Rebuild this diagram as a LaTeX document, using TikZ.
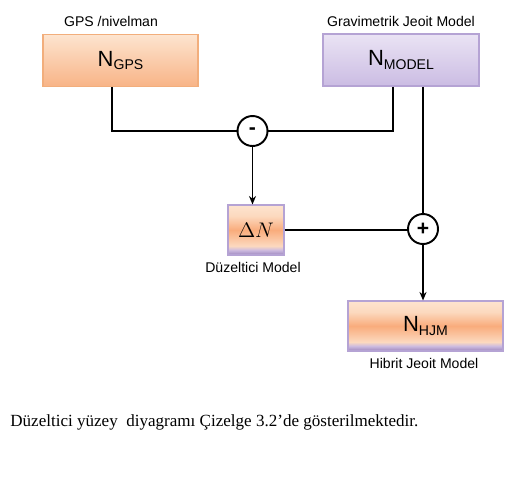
\documentclass[tikz,border=0pt]{standalone}
\usepackage{fontspec}
\setmainfont{Liberation Serif}
\newfontfamily\boxfont{Liberation Sans}
\usepackage{tikz}
\usetikzlibrary{shapes.geometric, arrows.meta, positioning, calc}
\definecolor{peachtop}{HTML}{FDE4CF}
\definecolor{peachbot}{HTML}{F8B487}
\definecolor{peachline}{HTML}{F2AE7C}
\definecolor{lilactop}{HTML}{EAE3F4}
\definecolor{lilacbot}{HTML}{CBBCE3}
\definecolor{lilacline}{HTML}{B5A3D4}
\definecolor{midorange}{HTML}{F9AC7C}
\definecolor{lightpeach}{HTML}{FCD9BF}
\definecolor{bandlight}{HTML}{CDBBE0}
\definecolor{banddark}{HTML}{9C86BD}
\pgfdeclareverticalshading{peachband}{100bp}{color(0bp)=(banddark); color(25bp)=(banddark); color(30bp)=(bandlight); color(34bp)=(lightpeach); color(50bp)=(midorange); color(64bp)=(lightpeach); color(75bp)=(peachtop); color(100bp)=(peachtop)}
\newcommand{\bigN}[1]{{\fontsize{12.5}{14}\selectfont N}\raisebox{-2pt}{\fontsize{8}{9}\selectfont #1}}
\tikzset{
    gpsbox/.style={rectangle, draw=peachline, line width=0.6pt, top color=peachtop, bottom color=peachbot, minimum width=3.1cm, minimum height=1.03cm, font=\boxfont},
    modelbox/.style={rectangle, draw=lilacline, line width=0.6pt, top color=lilactop, bottom color=lilacbot, minimum width=3.12cm, minimum height=1.04cm, font=\boxfont},
    mixbox/.style={rectangle, draw=lilacline, line width=0.6pt, shading=peachband, minimum height=1.0cm, font=\boxfont},
    sumnode/.style={circle, draw=black, line width=1.1pt, fill=white, minimum size=0.6cm, inner sep=0pt, font=\boxfont\large},
    tag/.style={font=\boxfont\fontsize{8}{9}\selectfont, inner sep=1pt}
}
\begin{document}
\begin{tikzpicture}[
  wire/.style={line width=1.1pt},
  arrow/.style={line width=1.1pt, -{Stealth[length=1.7mm, width=1.4mm]}}]
  \useasboundingbox (0,0) rectangle (10.2,-9.8);
  \node[gpsbox] (gps) at (2.41,-1.21) {\bigN{GPS}};
  \node[modelbox] (model) at (8.02,-1.2) {\bigN{MODEL}};
  \node[tag, above=0.1cm of gps, xshift=-0.19cm] (gpslbl) {GPS /nivelman};
  \node[tag, above=0.1cm of model] (modellbl) {Gravimetrik Jeoit Model};
  \node[sumnode] (minus) at (5.05,-2.62) {\textbf{-}};
  \node[mixbox, minimum width=1.12cm] (dN) at (5.12,-4.6) {\fontsize{12}{14}\selectfont$\Delta N$};
  \node[tag, below=0.1cm of dN, xshift=-0.06cm] (dNlbl) {Düzeltici Model};
  \node[sumnode] (plus) at (8.46,-4.58) {\textbf{+}};
  \node[mixbox, minimum width=3.1cm] (hjm) at (8.51,-6.52) {\bigN{HJM}};
  \node[tag, below=0.1cm of hjm, xshift=-0.03cm] (hjmlbl) {Hibrit Jeoit Model};
  \node[anchor=base west, inner sep=0pt, font=\fontsize{9.7}{12}\selectfont] (caption) at (0.2,-8.52) {Düzeltici yüzey\ \ diyagramı Çizelge 3.2’de gösterilmektedir.};
  \draw[wire] ([xshift=-0.17cm]gps.south) |- (minus.west);
  \draw[wire] ([xshift=-0.16cm]model.south) |- (minus.east);
  \draw[arrow] (minus.south) -- (minus.south |- dN.north);
  \draw[wire] (plus.north |- model.south) -- (plus.north);
  \draw[wire] (dN.east) -- (dN.east -| plus.west);
  \draw[arrow] (plus.south) -- (plus.south |- hjm.north);
\end{tikzpicture}
\end{document}
